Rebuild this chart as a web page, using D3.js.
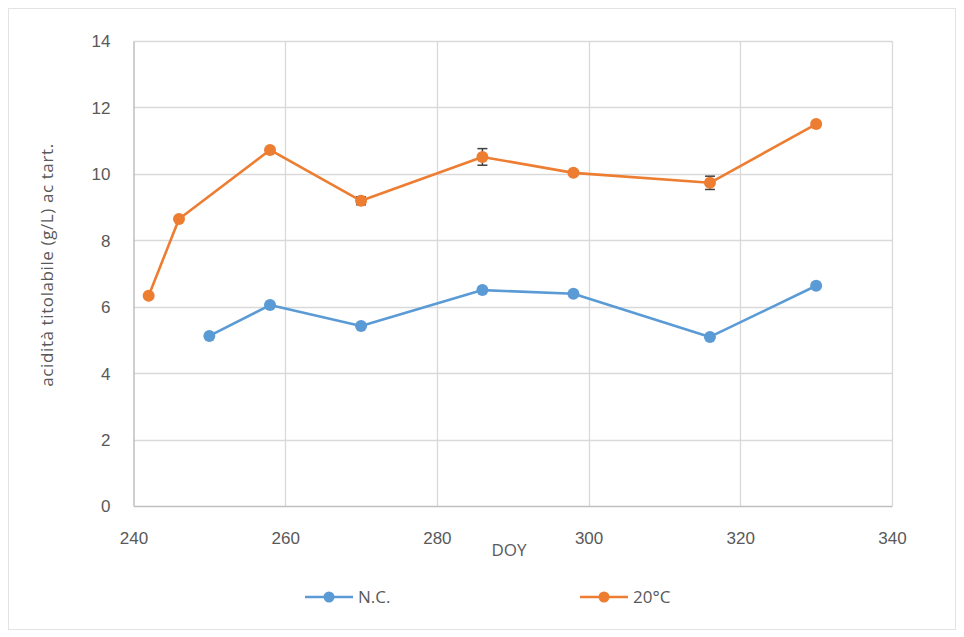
<!DOCTYPE html>
<html>
<head>
<meta charset="utf-8">
<script src="https://cdn.jsdelivr.net/npm/d3@7"></script>
<style>
  html, body { margin: 0; padding: 0; background: #fff; }
  svg { display: block; font-family: "Open Sans", "Liberation Sans", sans-serif; }
</style>
</head>
<body>
<svg id="chart" width="964" height="637"></svg>
<script>
// Titratable acidity over day of year, two treatments
const doyNC   = [250, 258, 270, 286, 298, 316, 330];
const valNC   = [5.12, 6.05, 5.42, 6.50, 6.39, 5.09, 6.63];
const errNC   = [0.03, 0.03, 0.03, 0.03, 0.03, 0.03, 0.03];

const doy20   = [242, 246, 258, 270, 286, 298, 316, 330];
const val20   = [6.33, 8.64, 10.72, 9.19, 10.51, 10.03, 9.73, 11.50];
const err20   = [0.05, 0.05, 0.05, 0.12, 0.25, 0.05, 0.20, 0.05];

const xTicks  = [240, 260, 280, 300, 320, 340];
const yTicks  = [0, 2, 4, 6, 8, 10, 12, 14];
const seriesNames = ["N.C.", "20°C"];

const colors = { nc: "#5B9BD5", c20: "#ED7D31" };

const svg = d3.select("#chart");

// outer frame
svg.append("rect")
  .attr("x", 8.5).attr("y", 8.5).attr("width", 947).attr("height", 621)
  .attr("fill", "#fff").attr("stroke", "#e3e3e3").attr("stroke-width", 1);

const plotL = 133.5, plotR = 892, plotT = 41, plotB = 506;

const x = d3.scaleLinear().domain([240, 340]).range([plotL, plotR]);
const y = d3.scaleLinear().domain([0, 14]).range([plotB, plotT]);

// grid
const grid = svg.append("g");
grid.selectAll("line.h").data(yTicks.filter(d => d > 0)).join("line")
  .attr("x1", plotL).attr("x2", plotR)
  .attr("y1", d => Math.round(y(d)) + 0.5).attr("y2", d => Math.round(y(d)) + 0.5)
  .attr("stroke", "#d9d9d9").attr("stroke-width", 1.3);
grid.selectAll("line.v").data(xTicks.filter(d => d > 240)).join("line")
  .attr("y1", plotT).attr("y2", plotB)
  .attr("x1", d => Math.round(x(d)) + 0.5).attr("x2", d => Math.round(x(d)) + 0.5)
  .attr("stroke", "#d9d9d9").attr("stroke-width", 1.3);

// axes
const xAxis = svg.append("g").attr("transform", `translate(0,${plotB})`)
  .call(d3.axisBottom(x).tickValues(xTicks).tickSize(0).tickPadding(26));
const yAxis = svg.append("g").attr("transform", `translate(${plotL},0)`)
  .call(d3.axisLeft(y).tickValues(yTicks).tickSize(0).tickPadding(23));
[xAxis, yAxis].forEach(a => {
  a.select(".domain").attr("stroke", "#bfbfbf").attr("stroke-width", 1.5);
  a.selectAll("text").attr("fill", "#595959").attr("font-size", 17);
});
yAxis.selectAll("text").attr("dy", "0.35em");

// axis titles
svg.append("text")
  .attr("x", 509).attr("y", 556)
  .attr("text-anchor", "middle").attr("font-size", 17).attr("fill", "#595959")
  .text("DOY");
svg.append("text")
  .attr("transform", `translate(53,265) rotate(-90)`)
  .attr("text-anchor", "middle").attr("font-size", 17).attr("fill", "#595959")
  .attr("letter-spacing", 0.6)
  .text("acidità titolabile (g/L) ac tart.");

// series
const series = [
  { name: seriesNames[0], xs: doyNC, ys: valNC, es: errNC, color: colors.nc },
  { name: seriesNames[1], xs: doy20, ys: val20, es: err20, color: colors.c20 }
];

const line = d3.line().x(d => x(d[0])).y(d => y(d[1]));

series.forEach(s => {
  const pts = s.xs.map((v, i) => [v, s.ys[i], s.es[i]]);
  const g = svg.append("g");
  g.append("path").datum(pts)
    .attr("d", line).attr("fill", "none")
    .attr("stroke", s.color).attr("stroke-width", 2.6)
    .attr("stroke-linejoin", "round");
  // error bars
  const eb = g.selectAll("g.err").data(pts).join("g").attr("stroke", "#404040").attr("stroke-width", 1.5);
  eb.append("line")
    .attr("x1", d => x(d[0])).attr("x2", d => x(d[0]))
    .attr("y1", d => y(d[1] - d[2])).attr("y2", d => y(d[1] + d[2]));
  eb.append("line")
    .attr("x1", d => x(d[0]) - 5).attr("x2", d => x(d[0]) + 5)
    .attr("y1", d => y(d[1] - d[2])).attr("y2", d => y(d[1] - d[2]));
  eb.append("line")
    .attr("x1", d => x(d[0]) - 5).attr("x2", d => x(d[0]) + 5)
    .attr("y1", d => y(d[1] + d[2])).attr("y2", d => y(d[1] + d[2]));
  g.selectAll("circle").data(pts).join("circle")
    .attr("cx", d => x(d[0])).attr("cy", d => y(d[1]))
    .attr("r", 6).attr("fill", s.color);
});

// legend
const legendX = [305, 580];
series.forEach((s, i) => {
  const lg = svg.append("g").attr("transform", `translate(${legendX[i]},597)`);
  lg.append("line").attr("x1", 0).attr("x2", 48).attr("y1", 0).attr("y2", 0)
    .attr("stroke", s.color).attr("stroke-width", 2.6);
  lg.append("circle").attr("cx", 24).attr("cy", 0).attr("r", 5.5).attr("fill", s.color);
  lg.append("text").attr("x", 53).attr("y", 0).attr("dy", "0.35em")
    .attr("font-size", 17).attr("fill", "#595959").text(s.name);
});
</script>
</body>
</html>
